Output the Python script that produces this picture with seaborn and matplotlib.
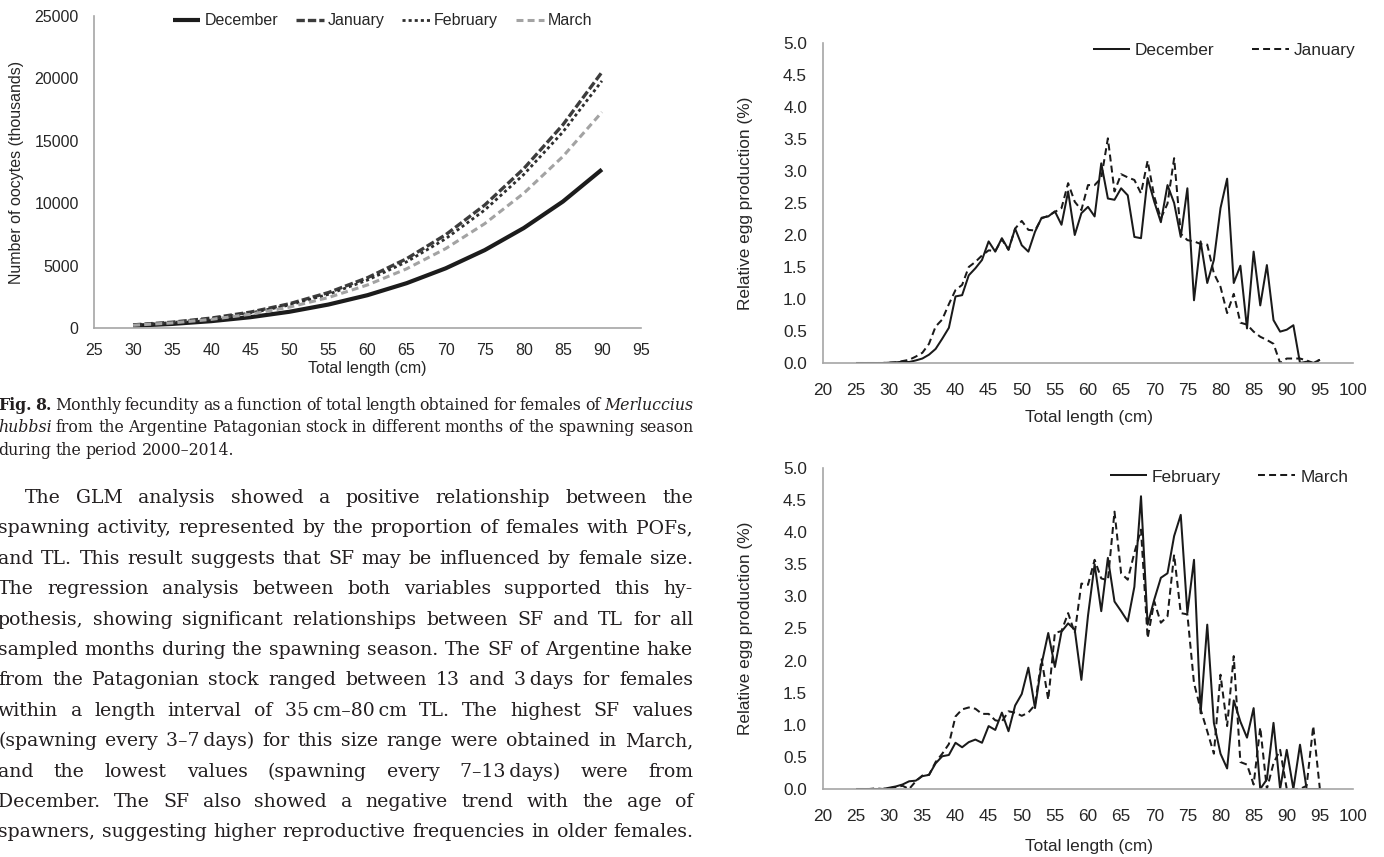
import matplotlib
matplotlib.use("Agg")
import matplotlib.pyplot as plt
import numpy as np
import pandas as pd
import seaborn as sns

W, H = 1384, 857

# ---------------- Fig. 8: monthly fecundity (thousands of oocytes) ----------------
fec_length = [30, 35, 40, 45, 50, 55, 60, 65, 70, 75, 80, 85, 90]
fec_december = [180, 327, 548, 864, 1300, 1880, 2630, 3590, 4780, 6240, 8010, 10130, 12700]
fec_january = [250, 464, 793, 1270, 1940, 2840, 4030, 5550, 7470, 9850, 12770, 16280, 20500]
fec_february = [235, 435, 745, 1200, 1840, 2700, 3840, 5300, 7150, 9450, 12300, 15700, 19800]
fec_march = [220, 406, 690, 1100, 1670, 2440, 3450, 4740, 6360, 8360, 10800, 13740, 17300]

# ---------------- Relative egg production (%) by total length ----------------
egg_length = list(range(25, 96))
egg_december = [
    0.00, 0.00, 0.00, 0.00, 0.00, 0.005, 0.01, 0.02, 0.015, 0.04,   # 25-34
    0.07, 0.13, 0.22, 0.38, 0.55, 1.04, 1.06, 1.37, 1.48, 1.61,     # 35-44
    1.90, 1.74, 1.95, 1.77, 2.10, 1.84, 1.74, 2.05, 2.27, 2.29,     # 45-54
    2.37, 2.16, 2.68, 2.00, 2.34, 2.44, 2.29, 3.12, 2.57, 2.55,     # 55-64
    2.73, 2.62, 1.97, 1.95, 2.89, 2.52, 2.20, 2.78, 2.50, 1.97,     # 65-74
    2.73, 0.98, 1.90, 1.25, 1.61, 2.42, 2.88, 1.25, 1.52, 0.54,     # 75-84
    1.74, 0.90, 1.53, 0.67, 0.49, 0.52, 0.59, 0.00, 0.02, 0.00,     # 85-94
    0.05,                                                           # 95
]
egg_january = [
    0.00, 0.00, 0.00, 0.00, 0.00, 0.005, 0.01, 0.03, 0.05, 0.10,
    0.16, 0.30, 0.57, 0.68, 0.92, 1.14, 1.22, 1.50, 1.58, 1.68,
    1.76, 1.75, 1.93, 1.77, 2.10, 2.22, 2.08, 2.07, 2.26, 2.30,
    2.36, 2.42, 2.81, 2.52, 2.39, 2.78, 2.78, 2.89, 3.51, 2.68,
    2.95, 2.90, 2.86, 2.65, 3.16, 2.60, 2.26, 2.49, 3.20, 2.02,
    1.92, 1.90, 1.86, 1.85, 1.40, 1.19, 0.78, 1.08, 0.63, 0.60,
    0.49, 0.41, 0.36, 0.30, 0.00, 0.07, 0.07, 0.07, 0.04, 0.00,
    0.05,
]
egg_february = [
    0.00, 0.00, 0.00, 0.00, 0.00, 0.02, 0.04, 0.07, 0.12, 0.13,
    0.20, 0.22, 0.40, 0.51, 0.53, 0.72, 0.65, 0.73, 0.77, 0.72,
    0.98, 0.92, 1.19, 0.90, 1.30, 1.48, 1.89, 1.26, 1.95, 2.43,
    1.90, 2.45, 2.58, 2.48, 1.70, 2.70, 3.50, 2.77, 3.60, 2.92,
    2.77, 2.61, 3.15, 4.56, 2.56, 2.95, 3.29, 3.36, 3.94, 4.27,
    2.74, 3.57, 1.18, 2.56, 1.03, 0.55, 0.32, 1.38, 1.05, 0.80,
    1.26, 0.00, 0.15, 1.03, 0.00, 0.61, 0.00, 0.69, 0.00, 0.00,
    0.00,
]
egg_march = [
    0.00, 0.00, 0.00, 0.01, 0.00, 0.01, 0.03, 0.05, 0.00, 0.12,
    0.21, 0.22, 0.42, 0.55, 0.70, 1.13, 1.24, 1.27, 1.25, 1.17,
    1.17, 1.07, 1.05, 1.21, 1.19, 1.14, 1.19, 1.31, 2.02, 1.39,
    2.43, 2.46, 2.74, 2.43, 3.20, 3.18, 3.57, 3.28, 3.25, 4.32,
    3.36, 3.26, 3.68, 4.04, 2.35, 2.92, 2.59, 2.69, 3.65, 2.74,
    2.72, 1.65, 1.24, 0.90, 0.55, 1.78, 0.98, 2.07, 0.42, 0.38,
    0.07, 0.96, 0.00, 0.40, 0.61, 0.00, 0.00, 0.00, 0.05, 0.98,
    0.00,
]

# ---------------- page text ----------------
caption_lines = [
    [("Fig.", "bold", "normal"), ("8.", "bold", "normal"), "Monthly", "fecundity", "as", "a",
     "function", "of", "total", "length", "obtained", "for", "females", "of",
     ("Merluccius", "normal", "italic")],
    [("hubbsi", "normal", "italic"), "from", "the", "Argentine", "Patagonian", "stock", "in",
     "different", "months", "of", "the", "spawning", "season"],
    ["during", "the", "period", "2000–2014."],
]
body_lines = [
    "The GLM analysis showed a positive relationship between the",
    "spawning activity, represented by the proportion of females with POFs,",
    "and TL. This result suggests that SF may be influenced by female size.",
    "The regression analysis between both variables supported this hy-",
    "pothesis, showing significant relationships between SF and TL for all",
    "sampled months during the spawning season. The SF of Argentine hake",
    "from the Patagonian stock ranged between 13 and 3\u2009days for females",
    "within a length interval of 35\u2009cm–80\u2009cm TL. The highest SF values",
    "(spawning every 3–7\u2009days) for this size range were obtained in March,",
    "and the lowest values (spawning every 7–13\u2009days) were from",
    "December. The SF also showed a negative trend with the age of",
    "spawners, suggesting higher reproductive frequencies in older females.",
]

# ---------------- styling ----------------
sns.set_theme(style="white")
plt.rcParams["font.family"] = ["Liberation Sans", "DejaVu Sans"]
plt.rcParams["lines.scale_dashes"] = False
plt.rcParams["lines.solid_capstyle"] = "butt"
plt.rcParams["lines.dash_capstyle"] = "butt"

AXIS_GREY = "#a6a6a6"
INK = "#262626"
TEXT = "#231f20"
SERIF = ["DejaVu Serif", "Liberation Serif"]

fig = plt.figure(figsize=(W / 100, H / 100), dpi=100)
fig.patch.set_facecolor("white")


def px_axes(x0, y0, x1, y1):
    return fig.add_axes([x0 / W, (H - y1) / H, (x1 - x0) / W, (y1 - y0) / H])


def style_axes(ax, size, pad_x, pad_y):
    for side in ("top", "right"):
        ax.spines[side].set_visible(False)
    for side in ("left", "bottom"):
        ax.spines[side].set_color(AXIS_GREY)
        ax.spines[side].set_linewidth(1.2)
    ax.tick_params(axis="both", direction="out", length=4.5, width=1.1,
                   color=AXIS_GREY, labelcolor=INK, labelsize=size)
    ax.tick_params(axis="x", pad=pad_x)
    ax.tick_params(axis="y", pad=pad_y)
    ax.set_facecolor("white")
    ax.grid(False)


# ---------------- left: fecundity curves ----------------
axf = px_axes(94, 16, 641, 328)
fec_series = [
    ("December", fec_december, "#1c1c1c", 3.0, None),
    ("January", fec_january, "#3c3c3c", 2.4, (6.0, 2.2)),
    ("February", fec_february, "#2e2e2e", 2.0, (2.2, 2.2)),
    ("March", fec_march, "#a3a3a3", 2.2, (5.0, 3.0)),
]
fec_handles = []
for name, vals, col, lw, dash in fec_series:
    sns.lineplot(x=fec_length, y=vals, ax=axf, color=col, linewidth=lw)
    line = axf.lines[-1]
    if dash is not None:
        line.set_dashes(dash)
    line.set_label(name)
    fec_handles.append(line)
axf.set_xlim(25, 95)
axf.set_ylim(0, 25000)
axf.set_xticks(np.arange(25, 96, 5))
axf.set_yticks(np.arange(0, 25001, 5000))
style_axes(axf, 11.5, 6.5, 6.5)
axf.set_xlabel("Total length (cm)", fontsize=11.5, color=INK)
axf.set_ylabel("Number of oocytes (thousands)", fontsize=11.5, color=INK)
axf.xaxis.set_label_coords(0.5, -0.105)
axf.yaxis.set_label_coords(-0.128, 0.5)
axf.legend(handles=fec_handles, labels=[s[0] for s in fec_series], ncol=4,
           frameon=False, loc="center", bbox_to_anchor=(0.527, 0.984),
           fontsize=11.5, handlelength=1.75, handletextpad=0.25,
           columnspacing=1.1, borderpad=0, labelcolor=INK)

# ---------------- right: relative egg production ----------------
def egg_panel(y0, y1, series, legend_xy):
    ax = px_axes(823, y0, 1353, y1)
    handles = []
    for name, vals, dash in series:
        sns.lineplot(x=egg_length, y=vals, ax=ax, color="#1a1a1a", linewidth=1.45)
        line = ax.lines[-1]
        if dash is not None:
            line.set_dashes(dash)
        line.set_label(name)
        handles.append(line)
    ax.set_xlim(20, 100)
    ax.set_ylim(0, 5)
    ax.set_xticks(np.arange(20, 101, 5))
    ax.set_yticks(np.arange(0, 5.01, 0.5))
    ax.yaxis.set_major_formatter(matplotlib.ticker.FormatStrFormatter("%.1f"))
    style_axes(ax, 12.4, 10, 7)
    ax.set_xlabel("Total length (cm)", fontsize=12.4, color=INK)
    ax.set_ylabel("Relative egg production (%)", fontsize=12.4, color=INK)
    ax.yaxis.set_label_coords(-0.132, 0.5)
    ax.legend(handles=handles, labels=[s[0] for s in series], ncol=2,
              frameon=False, loc="center", bbox_to_anchor=legend_xy,
              fontsize=12.4, handlelength=2.15, handletextpad=0.3,
              columnspacing=2.15, borderpad=0, labelcolor=INK)
    return ax


ax_top = egg_panel(43, 363, [("December", egg_december, None),
                             ("January", egg_january, (5.0, 3.0))], (0.757, 0.978))
ax_top.xaxis.set_label_coords(0.502, -0.147)
ax_bot = egg_panel(468, 789, [("February", egg_february, None),
                              ("March", egg_march, (5.0, 3.0))], (0.766, 0.972))
ax_bot.xaxis.set_label_coords(0.502, -0.156)

# ---------------- justified text column ----------------
renderer = fig.canvas.get_renderer()


def set_line(words, x0, x1, baseline, size, justify=True):
    arts, widths = [], []
    for w in words:
        if isinstance(w, tuple):
            word, weight, style = w
        else:
            word, weight, style = w, "normal", "normal"
        t = fig.text(0, (H - baseline) / H, word, fontsize=size, family=SERIF,
                     fontweight=weight, fontstyle=style, color=TEXT,
                     va="baseline", ha="left")
        arts.append(t)
        widths.append(t.get_window_extent(renderer).width)
    gap = size * 100 / 72 * 0.28
    if justify and len(arts) > 1:
        gap = max((x1 - x0 - sum(widths)) / (len(arts) - 1), 2.0)
    x = x0
    for t, w in zip(arts, widths):
        t.set_x(x / W)
        x += w + gap


COL_LEFT, COL_RIGHT = -2, 693
for i, words in enumerate(caption_lines):
    set_line(words, COL_LEFT, COL_RIGHT, 410 + 22.5 * i, 11.3,
             justify=(i < len(caption_lines) - 1))

for i, line in enumerate(body_lines):
    x0 = COL_LEFT + 27 if i == 0 else COL_LEFT
    set_line(line.split(" "), x0, COL_RIGHT, 503 + 30.4 * i, 13.6, justify=True)

fig.savefig("out.png", dpi=100, facecolor="white")
